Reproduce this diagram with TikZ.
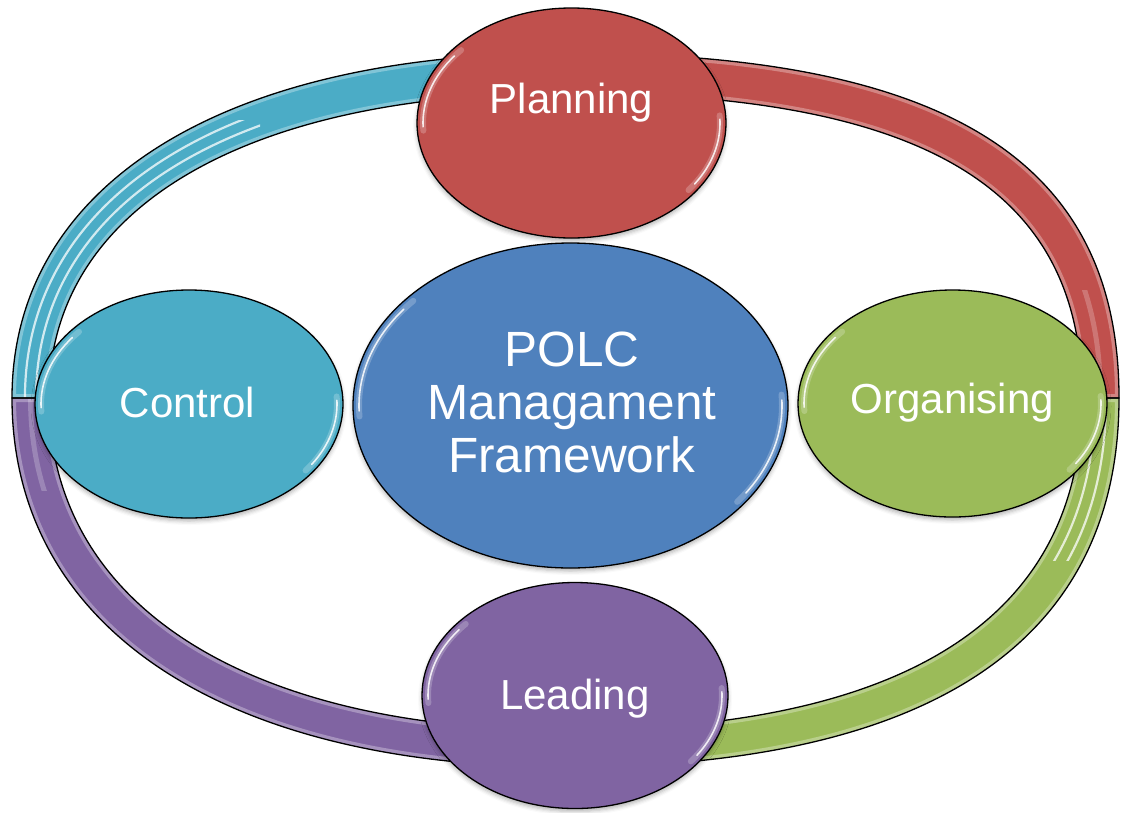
\documentclass[tikz,border=0pt]{standalone}
\usepackage{fontspec}
\setmainfont{Liberation Sans}
\usetikzlibrary{shapes.geometric,shadows.blur}

\definecolor{ringCyan}{HTML}{4BACC6}
\definecolor{ringRed}{HTML}{C0504D}
\definecolor{ringGreen}{HTML}{9BBB59}
\definecolor{ringPurple}{HTML}{8064A2}
\definecolor{coreBlue}{HTML}{4F81BD}

% four quarter bands of the cycle ring
\newcommand\bandTL{(12,398) .. controls (12,185.3) and (222.5,53) .. (566,53) -- (566,93) .. controls (245.5,93) and (49,208.3) .. (49,398) -- cycle}
\newcommand\bandTR{(566,53) .. controls (947.6,53) and (1119,161.3) .. (1119,398) -- (1082,398) .. controls (1082,186.9) and (922,93) .. (566,93) -- cycle}
\newcommand\bandBR{(1119,398) .. controls (1119,641.5) and (931,767) .. (566,767) -- (566,730) .. controls (906.6,730) and (1082,617.1) .. (1082,398) -- cycle}
\newcommand\bandBL{(566,767) .. controls (222.5,767) and (12,626.8) .. (12,398) -- (49,398) .. controls (49,603.8) and (245.5,730) .. (566,730) -- cycle}

% rim highlights of an ellipse: centre x, centre y, x radius, y radius
\newcommand\rimglint[4]{%
  \path[glintsoft] (#1,#2) ++({#3*cos(176)},{#4*sin(176)}) arc[start angle=176, end angle=222, x radius=#3, y radius=#4];
  \path[glintsoft] (#1,#2) ++({#3*cos(-4)},{#4*sin(-4)}) arc[start angle=-4, end angle=38, x radius=#3, y radius=#4];
  \path[glint] (#1,#2) ++({#3*cos(178)},{#4*sin(178)}) arc[start angle=178, end angle=218, x radius=#3, y radius=#4];
  \path[glint] (#1,#2) ++({#3*cos(-2)},{#4*sin(-2)}) arc[start angle=-2, end angle=34, x radius=#3, y radius=#4];
}

\tikzset{
  bandline/.style={draw=black, line width=1.3pt, line join=round},
  bandglow/.style={draw=white, line width=8pt, opacity=.3},
  stripe/.style={draw=white, line width=2.2pt, opacity=.75},
  faintstripe/.style={draw=white, line width=5pt, opacity=.22},
  bubble/.style={ellipse, draw=black, line width=1.3pt, inner sep=0pt,
    blur shadow={shadow xshift=0pt, shadow yshift=-3pt, shadow blur radius=4pt, shadow opacity=30}},
  glint/.style={draw=white, line width=1.6pt, opacity=.85, line cap=round},
  glintsoft/.style={draw=white, line width=6pt, opacity=.22, line cap=round},
  stagelabel/.style={text=white, anchor=base, font=\fontsize{42}{48}\selectfont},
  corelabel/.style={text=white, align=center, font=\fontsize{49.5}{53}\selectfont}
}

\begin{document}
\begin{tikzpicture}[x=1pt,y=-1pt]
\useasboundingbox (0,0) rectangle (1121,812);

% ring bands
\fill[ringCyan] \bandTL;
\fill[ringRed] \bandTR;
\fill[ringGreen] \bandBR;
\fill[ringPurple] \bandBL;
\begin{scope}\clip \bandTL; \path[bandglow] \bandTL;\end{scope}
\begin{scope}\clip \bandTR; \path[bandglow] \bandTR;\end{scope}
\begin{scope}\clip \bandBR; \path[bandglow] \bandBR;\end{scope}
\begin{scope}\clip \bandBL; \path[bandglow] \bandBL;\end{scope}

% glossy stripes on the cyan and green bands
\begin{scope}
  \clip (0,120) rectangle (260,398);
  \path[stripe] (24.95,398) .. controls (24.95,193.4) and (230.6,67) .. (566,67);
  \path[stripe] (36.05,398) .. controls (36.05,200.2) and (237.4,79) .. (566,79);
\end{scope}
\begin{scope}
  \clip (1000,398) rectangle (1121,560);
  \path[stripe] (1106.05,398) .. controls (1106.05,633.1) and (922.5,754) .. (566,754);
  \path[stripe] (1094.95,398) .. controls (1094.95,625.4) and (915.1,743) .. (566,743);
\end{scope}
% softer sheen near the side joints of the red and purple bands
\begin{scope}
  \clip (0,398) rectangle (100,490);
  \path[faintstripe] (566,748.5) .. controls (234,748.5) and (30.5,615.3) .. (30.5,398);
\end{scope}
\begin{scope}
  \clip (1040,290) rectangle (1121,398);
  \path[faintstripe] (566,73) .. controls (934.8,73) and (1100.5,174.1) .. (1100.5,398);
\end{scope}

\path[bandline] \bandTL;
\path[bandline] \bandTR;
\path[bandline] \bandBR;
\path[bandline] \bandBL;

% the five stages
\node[bubble, fill=ringRed, minimum width=309pt, minimum height=230pt] (plan) at (571.5,123) {};
\node[bubble, fill=ringGreen, minimum width=309pt, minimum height=227pt] (org) at (952.5,403.5) {};
\node[bubble, fill=ringPurple, minimum width=306pt, minimum height=226pt] (lead) at (575,695.5) {};
\node[bubble, fill=ringCyan, minimum width=308pt, minimum height=228pt] (ctrl) at (189,404) {};
\node[bubble, fill=coreBlue, minimum width=435pt, minimum height=325pt] (core) at (570.5,405.5) {};

% highlights along the rims
\rimglint{571.5}{123}{148.5}{109}
\rimglint{952.5}{403.5}{148.5}{107.5}
\rimglint{575}{695.5}{147}{107}
\rimglint{189}{404}{148}{108}
\rimglint{570.5}{405.5}{211.5}{156.5}

% labels
\node[stagelabel] (plantext) at (571.5,113) {Planning};
\node[stagelabel] (orgtext) at (952.5,413) {Organising};
\node[stagelabel] (leadtext) at (575,709) {Leading};
\node[stagelabel] (ctrltext) at (187.5,417) {Control};
\node[corelabel] (coretext) at (572,402.3) {POLC\\Managament\\Framework};
\end{tikzpicture}
\end{document}
